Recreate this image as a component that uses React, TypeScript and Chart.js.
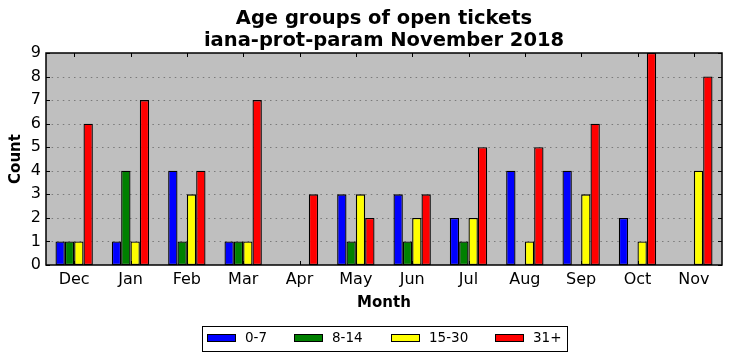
import React, { useEffect, useRef } from "react";
import { Chart, registerables } from "chart.js";

Chart.register(...registerables);

const months = ["Dec", "Jan", "Feb", "Mar", "Apr", "May", "Jun", "Jul", "Aug", "Sep", "Oct", "Nov"];
const age0to7 = [1, 1, 4, 1, 0, 3, 3, 2, 4, 4, 2, 0];
const age8to14 = [1, 4, 1, 1, 0, 1, 1, 1, 0, 0, 0, 0];
const age15to30 = [1, 1, 3, 1, 0, 3, 2, 2, 1, 3, 1, 4];
const age31plus = [6, 7, 4, 7, 3, 2, 3, 5, 5, 6, 9, 8];
const seriesLabels = ["0-7", "8-14", "15-30", "31+"];
const seriesColors = ["#0000ff", "#008000", "#ffff00", "#ff0000"];
const yTicks = [0, 1, 2, 3, 4, 5, 6, 7, 8, 9];
const titleLines = ["Age groups of open tickets", "iana-prot-param November 2018"];
const xTitle = "Month";
const yTitle = "Count";

const FONT = "'DejaVu Sans', sans-serif";

const decorPlugin = {
  id: "decor",
  beforeDraw(chart: any) {
    const { ctx, chartArea: a } = chart;
    ctx.save();
    ctx.fillStyle = "#ffffff";
    ctx.fillRect(0, 0, chart.width, chart.height);
    ctx.fillStyle = "#bfbfbf";
    ctx.fillRect(a.left, a.top, a.right - a.left, a.bottom - a.top);
    ctx.restore();
  },
  beforeDatasetsDraw(chart: any) {
    const { ctx, chartArea: a } = chart;
    const ys = chart.scales.y;
    ctx.save();
    ctx.strokeStyle = "#7a7a7a";
    ctx.lineWidth = 1;
    ctx.setLineDash([1.5, 4.1]);
    yTicks.forEach((v) => {
      if (v === 0 || v === 9) return;
      const y = Math.round(ys.getPixelForValue(v)) + 0.5;
      ctx.beginPath();
      ctx.moveTo(a.left, y);
      ctx.lineTo(a.right, y);
      ctx.stroke();
    });
    ctx.restore();
  },
  afterDraw(chart: any) {
    const { ctx, chartArea: a } = chart;
    const xs = chart.scales.x;
    const ys = chart.scales.y;
    ctx.save();
    // frame
    ctx.strokeStyle = "#000";
    ctx.lineWidth = 1.5;
    ctx.strokeRect(a.left, a.top, a.right - a.left, a.bottom - a.top);
    // inward ticks
    ctx.lineWidth = 1;
    const tl = 4;
    months.forEach((_, i) => {
      const x = Math.round(xs.getPixelForValue(i)) + 0.5;
      ctx.beginPath();
      ctx.moveTo(x, a.top);
      ctx.lineTo(x, a.top + tl);
      ctx.moveTo(x, a.bottom);
      ctx.lineTo(x, a.bottom - tl);
      ctx.stroke();
    });
    yTicks.forEach((v) => {
      const y = Math.round(ys.getPixelForValue(v)) + 0.5;
      ctx.beginPath();
      ctx.moveTo(a.left, y);
      ctx.lineTo(a.left + tl, y);
      ctx.moveTo(a.right, y);
      ctx.lineTo(a.right - tl, y);
      ctx.stroke();
    });
    // titles
    ctx.fillStyle = "#000";
    ctx.textAlign = "center";
    ctx.textBaseline = "middle";
    const cx = (a.left + a.right) / 2;
    ctx.font = `bold 19.5px ${FONT}`;
    ctx.fillText(titleLines[0], cx, 19);
    ctx.fillText(titleLines[1], cx, 41);
    ctx.font = `bold 15px ${FONT}`;
    ctx.fillText(xTitle, cx, 303);
    ctx.save();
    ctx.translate(16, (a.top + a.bottom) / 2);
    ctx.rotate(-Math.PI / 2);
    ctx.fillText(yTitle, 0, 0);
    ctx.restore();
    // legend
    const lx = 202, ly = 326, lw = 365, lh = 25;
    ctx.fillStyle = "#fff";
    ctx.fillRect(lx, ly, lw, lh);
    ctx.strokeStyle = "#000";
    ctx.lineWidth = 1;
    ctx.strokeRect(lx + 0.5, ly + 0.5, lw, lh);
    const patchX = [207, 294, 391, 495];
    ctx.font = `13.5px ${FONT}`;
    ctx.textAlign = "left";
    chart.data.datasets.forEach((ds: any, i: number) => {
      const px = patchX[i];
      ctx.fillStyle = ds.backgroundColor;
      ctx.fillRect(px, 334, 29, 8);
      ctx.strokeStyle = "#000";
      ctx.strokeRect(px + 0.5, 334.5, 28, 7);
      ctx.fillStyle = "#000";
      ctx.fillText(ds.label, px + 38, 338.5);
    });
    ctx.restore();
  },
};

export default function App() {
  const ref = useRef<HTMLCanvasElement>(null);
  useEffect(() => {
    const data = [age0to7, age8to14, age15to30, age31plus];
    const chart = new Chart(ref.current!, {
      type: "bar",
      data: {
        labels: months,
        datasets: data.map((d, i) => ({
          label: seriesLabels[i],
          data: d,
          backgroundColor: seriesColors[i],
          borderColor: "#000",
          borderWidth: 1.3,
          borderSkipped: false,
          categoryPercentage: 0.663,
          barPercentage: 1.0,
        })),
      },
      options: {
        animation: false,
        responsive: false,
        devicePixelRatio: 1,
        layout: { padding: { top: 53, left: 0, right: 10, bottom: 0 } },
        plugins: { legend: { display: false }, title: { display: false }, tooltip: { enabled: false } },
        scales: {
          x: {
            grid: { display: false, drawTicks: false },
            border: { display: false },
            ticks: { color: "#000", font: { family: FONT, size: 16 }, padding: 5, maxRotation: 0 },
            afterFit: (s: any) => { s.height = 96; },
          },
          y: {
            min: 0,
            max: 9,
            grid: { display: false, drawTicks: false },
            border: { display: false },
            ticks: { color: "#000", font: { family: FONT, size: 16 }, stepSize: 1, padding: 5 },
            afterFit: (s: any) => { s.width = 46; },
          },
        },
      },
      plugins: [decorPlugin],
    } as any);
    return () => chart.destroy();
  }, []);
  return (
    <div style={{ position: "absolute", left: 0, top: 0, width: 732, height: 361 }}>
      <canvas ref={ref} width={732} height={361} style={{ width: 732, height: 361 }} />
    </div>
  );
}
